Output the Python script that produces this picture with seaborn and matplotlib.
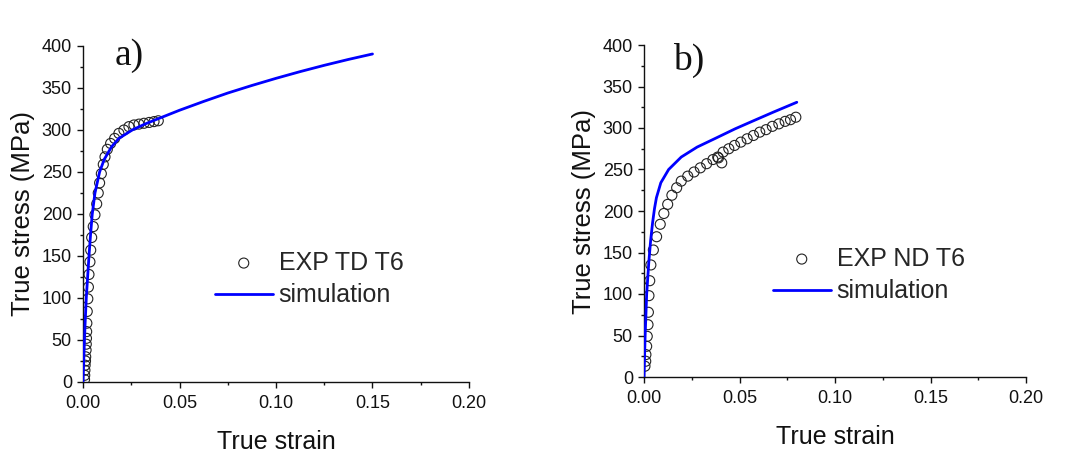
import matplotlib
matplotlib.use("Agg")
import matplotlib.pyplot as plt
from matplotlib.ticker import MultipleLocator, FormatStrFormatter
import seaborn as sns
import pandas as pd

# ---------------- data ----------------
exp_a_strain = [0.0008, 0.0009, 0.0010, 0.0011, 0.0013, 0.0014, 0.0016, 0.0017, 0.0018, 0.0019,
                0.0020, 0.0022, 0.0025, 0.0028, 0.0031, 0.0036, 0.0040, 0.0045, 0.0053, 0.0062,
                0.0071, 0.0079, 0.0086, 0.0095, 0.0105, 0.0114, 0.0126, 0.0143, 0.0164, 0.0186,
                0.0212, 0.0238, 0.0264, 0.0290, 0.0316, 0.0343, 0.0368, 0.0390]
exp_a_stress = [3, 8, 14, 20, 25, 30, 38, 45, 52, 60,
                70, 84, 99, 113, 128, 143, 157, 172, 185, 199,
                212, 225, 237, 248, 259, 268, 277, 284, 290, 296,
                300, 304, 306, 307, 308, 309, 310, 311]

sim_a_strain = [0.0, 0.0006, 0.0011, 0.0017, 0.0024, 0.0031, 0.0039, 0.0048, 0.0062, 0.0086,
                0.0110, 0.0148, 0.0186, 0.0255, 0.0320, 0.0385, 0.050, 0.0625, 0.075, 0.0875,
                0.100, 0.1125, 0.125, 0.1375, 0.150]
sim_a_stress = [0, 40, 70, 100, 125, 150, 175, 200, 225, 250,
                265, 280, 290, 300, 307, 313, 323.5, 334, 344, 353,
                361.5, 369.5, 377, 384, 390.5]

exp_b_strain = [0.0005, 0.0009, 0.0010, 0.0014, 0.0017, 0.0021, 0.0023, 0.0026, 0.0030, 0.0036,
                0.0049, 0.0066, 0.0085, 0.0104, 0.0124, 0.0146, 0.0171, 0.0195, 0.0229, 0.0262,
                0.0295, 0.0328, 0.0361, 0.0386, 0.0390, 0.0407, 0.0414, 0.0444, 0.0474, 0.0507,
                0.0540, 0.0573, 0.0606, 0.0639, 0.0672, 0.0706, 0.0739, 0.0767, 0.0795]
exp_b_stress = [13, 19, 27, 37, 49, 63, 78, 98, 116, 135,
                153, 169, 184, 197, 208, 219, 228, 236, 242, 247,
                252, 257, 262, 265, 264, 258, 271, 275, 279, 283,
                287, 291, 295, 298, 302, 305, 308, 310, 313]

sim_b_strain = [0.0, 0.0006, 0.0014, 0.0025, 0.0035, 0.0045, 0.0055, 0.0065, 0.0088, 0.0129,
                0.0195, 0.0278, 0.0378, 0.0477, 0.0576, 0.0676, 0.080]
sim_b_stress = [0, 50, 100, 138, 165, 186, 203, 216, 234, 250,
                265, 277, 288, 299, 309, 319, 331]

x_ticks = [0.00, 0.05, 0.10, 0.15, 0.20]
y_ticks = [0, 50, 100, 150, 200, 250, 300, 350, 400]

panels = [
    dict(tag="a)", exp_x=exp_a_strain, exp_y=exp_a_stress, sim_x=sim_a_strain, sim_y=sim_a_stress,
         exp_label="EXP TD T6", rect=[83/1086, 1-382/455, 386/1086, 336/455],
         leg=(215/1086, 1-279/455), tagpos=(115/1086, 1-65/455)),
    dict(tag="b)", exp_x=exp_b_strain, exp_y=exp_b_stress, sim_x=sim_b_strain, sim_y=sim_b_stress,
         exp_label="EXP ND T6", rect=[644/1086, 1-377/455, 382/1086, 332/455],
         leg=(773/1086, 1-275/455), tagpos=(673/1086, 1-70/455)),
]

# ---------------- style ----------------
sns.set_theme(style="ticks")
plt.rcParams["font.family"] = ["Liberation Sans", "DejaVu Sans"]
plt.rcParams["axes.linewidth"] = 1.0

fig = plt.figure(figsize=(10.86, 4.55), dpi=100)
fig.patch.set_facecolor("white")

for p in panels:
    ax = fig.add_axes(p["rect"])
    dexp = pd.DataFrame({"strain": p["exp_x"], "stress": p["exp_y"]})
    dsim = pd.DataFrame({"strain": p["sim_x"], "stress": p["sim_y"]})
    sns.scatterplot(data=dexp, x="strain", y="stress", ax=ax, marker="o", s=52,
                    facecolors="none", edgecolor="#222222", linewidth=0.8,
                    label=p["exp_label"], zorder=2)
    sns.lineplot(data=dsim, x="strain", y="stress", ax=ax, color="#0000FF", lw=2.0,
                 sort=False, estimator=None, label="simulation", zorder=3)

    ax.set_xlim(0, 0.2)
    ax.set_ylim(0, 400)
    ax.set_xticks(x_ticks)
    ax.set_yticks(y_ticks)
    ax.xaxis.set_major_formatter(FormatStrFormatter("%.2f"))
    ax.xaxis.set_minor_locator(MultipleLocator(0.025))
    ax.yaxis.set_minor_locator(MultipleLocator(25))
    ax.tick_params(which="major", direction="out", length=4.5, width=1.0, labelsize=13,
                   colors="#111111", pad=3.5)
    ax.tick_params(which="minor", direction="out", length=2.5, width=1.0, colors="#111111")
    ax.tick_params(axis="x", which="major", pad=5)
    for s in ["top", "right"]:
        ax.spines[s].set_visible(False)
    for s in ["left", "bottom"]:
        ax.spines[s].set_color("#111111")

    ax.set_xlabel("True strain", fontsize=18, labelpad=13, color="#111111")
    ax.set_ylabel("True stress (MPa)", fontsize=18.5, labelpad=5, color="#111111")

    ax.legend(loc="center left", bbox_to_anchor=p["leg"], bbox_transform=fig.transFigure,
              frameon=False, fontsize=18, handlelength=2.3, handletextpad=0.25,
              borderpad=0, borderaxespad=0, labelspacing=0.35)

    fig.text(p["tagpos"][0], p["tagpos"][1], p["tag"], family=["Liberation Serif", "DejaVu Serif"],
             fontsize=27, ha="left", va="baseline", color="#111111")

fig.savefig("out.png", dpi=100, facecolor="white")
